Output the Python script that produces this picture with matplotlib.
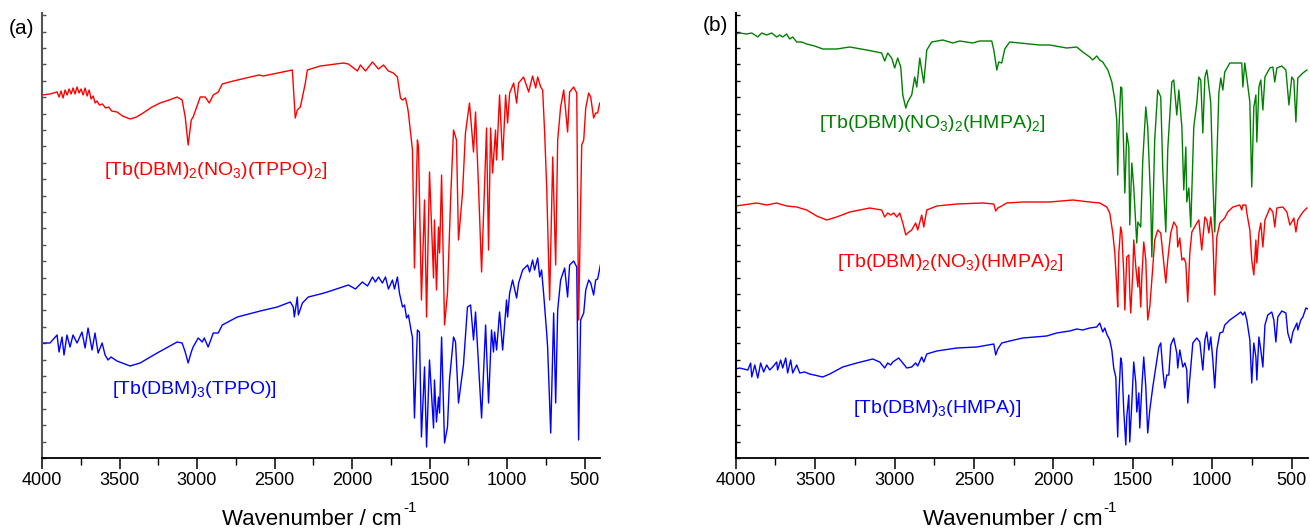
import numpy as np
import matplotlib
matplotlib.use("Agg")
import matplotlib.pyplot as plt
from matplotlib.ticker import MultipleLocator

plt.rcParams['font.family'] = ['Liberation Sans', 'DejaVu Sans']
plt.rcParams['mathtext.fontset'] = 'custom'
plt.rcParams['mathtext.rm'] = 'Liberation Sans'
plt.rcParams['mathtext.it'] = 'Liberation Sans:italic'
plt.rcParams['mathtext.bf'] = 'Liberation Sans:bold'

# ---- data: (wavenumber cm-1, transmittance a.u.) ----
tppo_no3 = [(4000,363),(3948,364),(3903,366),(3890,361),(3877,367),(3864,360),(3851,368),(3838,363),(3825,369),
            (3812,364),(3800,370),(3787,364),(3774,371),(3761,365),(3748,369),(3735,363),(3722,370),(3709,362),
            (3696,368),(3683,359),(3670,362),(3657,355),(3645,357),(3630,353),(3610,354),(3590,350),(3570,351),
            (3550,347),(3516,346),(3480,342),(3432,339),(3390,341),(3348,345),(3290,351),(3238,355),(3180,358),
            (3128,361),(3096,358),(3076,341),(3057,313),(3037,338),(3025,341),(2979,361),(2947,361),(2921,355),
            (2895,363),(2863,366),(2837,374),(2766,377),(2656,381),(2600,383),(2572,382),(2417,387),(2385,388),
            (2366,340),(2353,348),(2333,351),(2301,375),(2288,388),(2204,392),(2055,395),(2023,394),(1965,387),
            (1946,393),(1913,387),(1868,396),(1829,389),(1797,393),(1765,387),(1733,385),(1707,381),(1687,360),
            (1674,358),(1655,360),(1642,351),(1636,345),(1610,308),(1597,190),(1578,318),(1571,311),(1552,158),
            (1532,258),(1519,141),(1500,286),(1474,180),(1468,238),(1455,168),(1442,231),(1435,205),(1422,283),
            (1403,133),(1384,165),(1364,258),(1345,328),(1326,318),(1313,218),(1287,265),(1268,325),(1242,355),
            (1216,306),(1203,346),(1183,268),(1164,186),(1132,330),(1119,208),(1106,330),(1093,285),(1074,328),
            (1067,298),(1048,363),(1028,298),(1009,363),(996,335),(983,365),(957,375),(938,355),(925,375),
            (893,381),(860,366),(835,382),(815,370),(802,381),(783,371),(770,368),(757,325),(744,271),(725,158),
            (705,301),(686,193),(673,318),(654,351),(634,368),(609,326),(596,366),(570,371),(550,365),(538,138),
            (518,313),(505,318),(492,350),(473,365),(460,361),(441,340),(428,345),(415,345),(402,355),(395,353)]

tppo_dbm3 = [(4000,115),(3948,115),(3903,123),(3890,106),(3871,121),(3858,103),(3839,123),(3819,111),(3800,123),
             (3774,115),(3742,126),(3722,110),(3703,130),(3677,108),(3658,125),(3638,105),(3612,115),(3593,103),
             (3574,98),(3555,101),(3516,97),(3432,92),(3367,95),(3257,105),(3128,116),(3096,115),(3076,106),
             (3057,95),(3037,106),(3025,111),(2992,120),(2966,116),(2953,120),(2928,111),(2895,125),(2863,125),
             (2837,133),(2740,141),(2592,147),(2482,151),(2398,156),(2379,151),(2372,141),(2353,161),(2346,143),
             (2320,155),(2282,161),(2204,164),(2159,166),(2023,173),(1978,169),(1933,176),(1900,172),(1868,181),
             (1849,176),(1829,181),(1804,175),(1784,181),(1765,169),(1739,178),(1726,169),(1707,181),(1694,165),
             (1674,151),(1661,153),(1648,140),(1636,143),(1616,125),(1610,121),(1597,40),(1578,128),(1565,126),
             (1552,21),(1532,91),(1519,11),(1500,98),(1474,30),(1468,78),(1455,36),(1442,61),(1435,45),(1422,121),
             (1403,15),(1384,31),(1371,78),(1345,121),(1332,116),(1313,55),(1281,93),(1255,151),(1235,153),
             (1216,118),(1203,146),(1190,111),(1164,40),(1138,133),(1119,55),(1100,128),(1087,106),(1080,126),
             (1067,108),(1048,146),(1028,108),(1003,158),(996,141),(983,165),(964,178),(938,160),(925,175),
             (899,188),(867,193),(854,186),(835,198),(822,188),(802,200),(789,181),(777,188),(764,165),(744,125),
             (738,111),(718,25),(699,145),(686,55),(673,148),(654,178),(628,190),(609,161),(596,193),(570,197),
             (550,191),(538,18),(525,138),(505,145),(492,168),(473,178),(460,175),(441,163),(428,178),(415,179),
             (395,195)]

hmpa_no3_2 = [(4000,424),(3975,425),(3931,424),(3899,425),(3861,421),(3836,425),(3805,423),(3773,425),(3742,421),
              (3723,423),(3704,421),(3679,424),(3660,419),(3641,421),(3616,416),(3584,416),(3553,414),(3503,412),
              (3452,409),(3364,409),(3282,411),(3175,408),(3112,406),(3081,405),(3062,397),(3043,405),(3018,400),
              (2999,390),(2980,400),(2961,391),(2948,363),(2929,350),(2917,356),(2892,363),(2873,381),(2860,371),
              (2841,400),(2829,388),(2816,375),(2797,408),(2766,416),(2696,418),(2633,415),(2589,417),(2508,415),
              (2464,417),(2388,417),(2375,408),(2356,388),(2344,396),(2325,395),(2306,409),(2275,416),(2212,415),
              (2086,413),(2023,413),(1916,410),(1853,411),(1815,406),(1771,401),(1752,398),(1727,402),(1708,398),
              (1689,396),(1657,388),(1632,376),(1613,358),(1601,338),(1595,283),(1588,325),(1576,371),(1569,370),
              (1563,341),(1550,265),(1538,325),(1525,311),(1519,233),(1506,295),(1494,271),(1475,215),(1468,236),
              (1450,231),(1437,298),(1418,351),(1406,331),(1387,255),(1380,201),(1362,318),(1343,368),(1324,361),
              (1311,288),(1292,226),(1280,308),(1254,376),(1242,378),(1223,343),(1210,368),(1191,331),(1179,268),
              (1166,311),(1160,256),(1147,270),(1135,231),(1116,331),(1097,355),(1084,381),(1072,378),(1059,325),
              (1046,381),(1034,388),(1028,381),(1009,355),(996,278),(984,226),(971,298),(958,365),(946,380),
              (933,368),(921,386),(889,395),(839,395),(814,395),(807,371),(795,395),(782,380),(763,356),(751,271),
              (738,351),(725,363),(719,316),(706,371),(694,378),(681,348),(668,381),(637,390),(618,391),(606,376),
              (593,390),(562,392),(536,388),(517,353),(499,381),(486,378),(473,336),(461,380),(429,385),(404,388)]

hmpa_no3 = [(4000,252),(3956,253),(3868,255),(3805,253),(3742,255),(3679,252),(3616,251),(3553,248),(3490,242),
            (3427,238),(3364,241),(3282,246),(3156,250),(3081,248),(3062,241),(3043,245),(3024,243),(3005,245),
            (2986,241),(2967,245),(2948,235),(2929,223),(2917,225),(2892,228),(2867,235),(2854,228),(2829,243),
            (2816,231),(2797,248),(2734,252),(2608,254),(2444,255),(2375,254),(2363,247),(2350,250),(2325,252),
            (2294,255),(2193,256),(2023,256),(1878,258),(1771,256),(1708,255),(1664,251),(1645,245),(1626,225),
            (1613,205),(1601,171),(1595,151),(1588,205),(1576,231),(1569,225),(1557,185),(1550,148),(1538,201),
            (1525,203),(1519,165),(1513,145),(1500,185),(1494,218),(1481,191),(1468,171),(1462,191),(1450,151),
            (1443,181),(1431,216),(1418,198),(1406,138),(1393,151),(1374,191),(1362,218),(1343,228),(1324,225),
            (1311,205),(1292,175),(1280,198),(1261,225),(1242,236),(1223,231),(1217,211),(1204,220),(1191,198),
            (1179,200),(1166,195),(1154,156),(1141,205),(1128,226),(1097,235),(1084,238),(1066,208),(1046,241),
            (1034,238),(1021,225),(1009,241),(996,221),(984,163),(971,221),(952,235),(933,238),(921,240),
            (902,246),(870,251),(826,253),(814,248),(807,253),(788,253),(782,245),(763,228),(751,198),(738,183),
            (725,218),(719,195),(706,225),(694,235),(681,211),(668,238),(637,250),(618,246),(606,231),(593,250),
            (555,251),(530,246),(511,233),(499,236),(486,240),(473,226),(461,238),(442,243),(429,246),(404,250)]

hmpa_dbm3 = [(4000,89),(3975,90),(3924,88),(3906,95),(3899,81),(3880,93),(3861,80),(3843,95),(3824,86),(3805,93),
             (3786,88),(3767,91),(3742,96),(3736,88),(3717,98),(3704,90),(3685,100),(3673,85),(3654,98),(3641,85),
             (3616,93),(3597,85),(3566,86),(3534,84),(3452,81),(3408,84),(3326,91),(3238,95),(3137,99),(3093,96),
             (3062,90),(3043,95),(3024,93),(3011,96),(2974,100),(2948,95),(2923,90),(2892,91),(2867,95),(2854,92),
             (2829,101),(2816,96),(2797,104),(2734,107),(2608,110),(2482,111),(2375,114),(2363,103),(2350,109),
             (2325,115),(2275,117),(2193,120),(2042,122),(1979,125),(1941,126),(1897,127),(1853,129),(1815,128),
             (1771,130),(1727,131),(1708,135),(1689,126),(1676,130),(1664,124),(1645,118),(1632,108),(1620,90),
             (1607,81),(1595,21),(1588,61),(1576,100),(1569,95),(1557,48),(1544,13),(1538,41),(1525,63),(1519,16),
             (1506,55),(1494,96),(1481,75),(1475,46),(1462,65),(1456,30),(1443,71),(1431,101),(1418,71),(1406,25),
             (1393,48),(1374,71),(1355,91),(1336,111),(1324,115),(1311,88),(1299,70),(1286,83),(1273,83),(1261,113),
             (1242,120),(1223,105),(1217,90),(1204,108),(1185,91),(1172,95),(1160,88),(1154,55),(1135,91),(1122,115),
             (1097,120),(1078,116),(1059,88),(1046,118),(1034,126),(1021,108),(1009,121),(996,98),(984,70),(971,108),
             (952,125),(933,126),(921,133),(889,138),(845,143),(820,146),(807,143),(795,146),(782,138),(763,118),
             (751,75),(738,115),(725,101),(719,78),(706,121),(694,108),(681,91),(668,133),(650,143),(625,146),
             (612,138),(599,116),(587,141),(562,147),(536,145),(524,125),(505,115),(492,126),(467,135),(461,128),
             (442,138),(429,141),(410,150),(398,149)]

xticks_major = [4000, 3500, 3000, 2500, 2000, 1500, 1000, 500]
xlabel_main = 'Wavenumber / cm'
xlabel_sup = '-1'

panels = [
    dict(tag='(a)', series=[
        (tppo_no3, '#ff0000', r'[Tb(DBM)$_2$(NO$_3$)(TPPO)$_2$]', (3600, 283)),
        (tppo_dbm3, '#0000ff', r'[Tb(DBM)$_3$(TPPO)]', (3548, 64)),
    ]),
    dict(tag='(b)', series=[
        (hmpa_no3_2, '#008000', r'[Tb(DBM)(NO$_3$)$_2$(HMPA)$_2$]', (3477, 330)),
        (hmpa_no3, '#ff0000', r'[Tb(DBM)$_2$(NO$_3$)(HMPA)$_2$]', (3364, 191)),
        (hmpa_dbm3, '#0000ff', r'[Tb(DBM)$_3$(HMPA)]', (3263, 45)),
    ]),
]

W, H = 1310, 529
fig = plt.figure(figsize=(W / 100, H / 100), dpi=100)
rects = [[42 / W, 71 / H, 558 / W, 445 / H],
         [735.7 / W, 71 / H, 571.8 / W, 445 / H]]
tagpos = [(9 / W, 1 - 34 / H), (703 / W, 1 - 31 / H)]

for p, rect, tp, spc in zip(panels, rects, tagpos, ['#555555', '#000000']):
    ax = fig.add_axes(rect)
    for data, col, lab, (lx, ly) in p['series']:
        arr = np.array(data, dtype=float)
        ax.plot(arr[:, 0], arr[:, 1], color=col, lw=1.0)
        ax.text(lx, ly, lab, color=col, fontsize=14, ha='left', va='baseline')
    ax.set_xlim(4000, 400)
    ax.set_ylim(0, 445)
    ax.spines['top'].set_visible(False)
    ax.spines['right'].set_visible(False)
    ax.spines['left'].set_color(spc)
    ax.spines['left'].set_linewidth(1.5)
    ax.spines['bottom'].set_linewidth(1.3)
    ax.set_xticks(xticks_major)
    ax.xaxis.set_minor_locator(MultipleLocator(250))
    ax.tick_params(axis='x', which='major', direction='out', length=8, width=1.1, labelsize=13, pad=2)
    ax.tick_params(axis='x', which='minor', direction='out', length=5, width=1.0)
    ax.yaxis.set_major_locator(MultipleLocator(16.4))
    ax.tick_params(axis='y', which='major', direction='in', length=3, width=1.0, colors=spc, labelleft=False)
    # x-axis title with a plain-hyphen superscript
    cx = rect[0] + rect[2] / 2
    fig.text(cx - 9 / W, 1 - 525 / H, xlabel_main, fontsize=16, ha='center', va='baseline')
    fig.text(cx + 82 / W, 1 - 512 / H, xlabel_sup, fontsize=11, ha='left', va='baseline')
    fig.text(tp[0], tp[1], p['tag'], fontsize=15, ha='left', va='baseline')

fig.savefig('out.png', dpi=100)
